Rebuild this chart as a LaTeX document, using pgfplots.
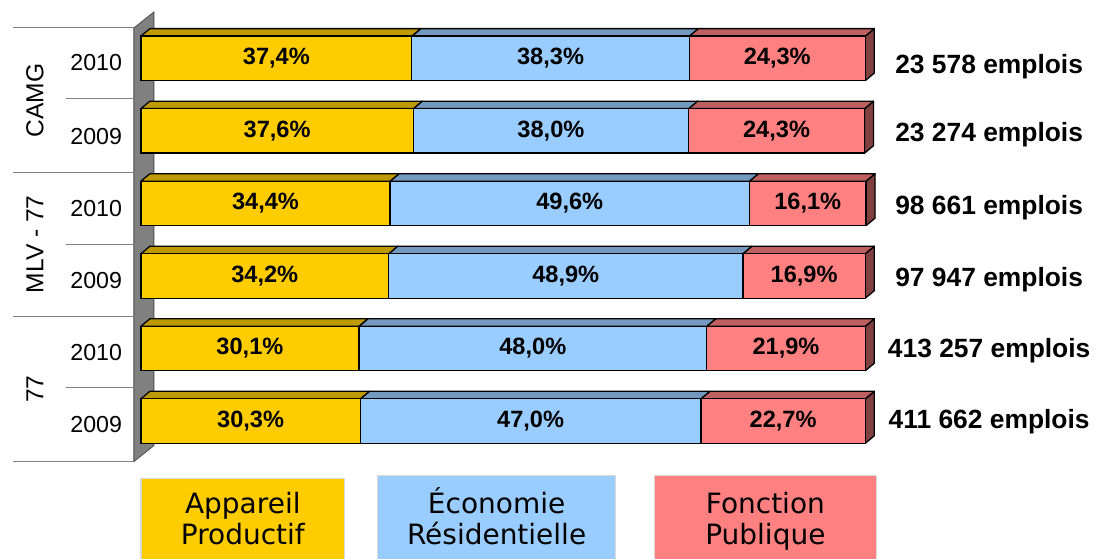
\documentclass[border=0pt]{standalone}
\usepackage{pgfplots}
\usepackage{pgfplotstable}
\pgfplotsset{compat=1.18}
\usepackage{fontspec}
\setmainfont{Liberation Sans}
\newfontfamily\legfont{DejaVu Sans}

\definecolor{apC}{HTML}{FFCC00}
\definecolor{ecC}{HTML}{99CCFF}
\definecolor{fpC}{HTML}{FF8080}
\definecolor{apT}{HTML}{BF9900}
\definecolor{ecT}{HTML}{7399BF}
\definecolor{fpT}{HTML}{BF6060}
\definecolor{fpS}{HTML}{804040}
\definecolor{wallC}{HTML}{808080}
\definecolor{gridC}{HTML}{808080}
\definecolor{legB}{HTML}{D9D9D9}

% y = position of the bar (5 = top), ey = baseline of the right label
\pgfplotstableread{
y ap ec fp emp ey
5 37.4 38.3 24.3 23578 4.785
4 37.6 38.0 24.3 23274 3.853
3 34.4 49.6 16.1 98661 2.843
2 34.2 48.9 16.9 97947 1.855
1 30.1 48.0 21.9 413257 0.873
0 30.3 47.0 22.7 411662 -0.105
}\data

\pgfkeys{/pgf/number format/.cd,
  pctfmt/.style={fixed, fixed zerofill, precision=1, use comma, assume math mode=true},
  empfmt/.style={fixed, precision=0, 1000 sep={\ }, assume math mode=true}}
\tikzset{
  pct/.style={font=\fontsize{11.8}{14}\selectfont\bfseries, anchor=base, yshift=-3.15pt},
  emp/.style={font=\fontsize{13.2}{15}\selectfont\bfseries, anchor=base},
  yr/.style={font=\fontsize{11.6}{14}\selectfont, anchor=east, inner sep=0pt},
  grp/.style={font=\fontsize{12.3}{14}\selectfont, rotate=90},
  leg/.style={font=\legfont\fontsize{14}{16}\selectfont, anchor=base},
  face/.style={draw=black, line width=0.65pt, line join=round}
}
\pgfplotsset{base/.style={
  at={(0pt,0pt)}, anchor=south west,
  hide axis, clip=false,
  x=3.625pt, y=36.3pt,
  xmin=-19.4483, xmax=131.862,
  ymin=-1.8953, ymax=5.8044,
  enlargelimits=false}}
\def\hh{0.30647}
\def\dy{0.1033}
\def\dx{1.2414}

% reads one row of the table and computes the corner positions
\newcommand\getrow[1]{%
  \pgfplotstablegetelem{#1}{y}\of\data \let\yv\pgfplotsretval
  \pgfplotstablegetelem{#1}{ap}\of\data \let\va\pgfplotsretval
  \pgfplotstablegetelem{#1}{ec}\of\data \let\vb\pgfplotsretval
  \pgfplotstablegetelem{#1}{fp}\of\data \let\vc\pgfplotsretval
  \pgfplotstablegetelem{#1}{emp}\of\data \let\ve\pgfplotsretval
  \pgfplotstablegetelem{#1}{ey}\of\data \let\vey\pgfplotsretval
  \pgfmathsetmacro\cb{\va+\vb}
  \pgfmathsetmacro\cc{\va+\vb+\vc}
  \pgfmathsetmacro\sad{\dx}
  \pgfmathsetmacro\cad{\va+\dx}
  \pgfmathsetmacro\cbd{\cb+\dx}
  \pgfmathsetmacro\ccd{\cc+\dx}
  \pgfmathsetmacro\ylo{\yv-\hh}
  \pgfmathsetmacro\ylod{\yv-\hh+\dy}
  \pgfmathsetmacro\yt{\yv+\hh}
  \pgfmathsetmacro\ytt{\yv+\hh+\dy}
  \pgfmathsetmacro\ma{\va/2}
  \pgfmathsetmacro\mb{\va+\vb/2}
  \pgfmathsetmacro\mc{\cb+\vc/2}%
}

\begin{document}
\begin{tikzpicture}
% decorations in pixel units of the reference
\begin{scope}[shift={(0pt,279.5pt)}, x=0.5pt, y=-0.5pt]
  \path (0,0) rectangle (1097,559);
  \filldraw[fill=wallC, draw=black!70, line width=0.4pt] (134,28) -- (154,12) -- (154,446) -- (134,462) -- cycle;
  \draw[gridC, line width=0.5pt]
    (13,28) -- (134,28) (66,99) -- (134,99)
    (13,173) -- (134,173) (66,245) -- (134,245)
    (13,317) -- (134,317) (66,388) -- (134,388)
    (13,462) -- (134,462);
  \node[grp] at (35,100.5) {CAMG};
  \node[grp] at (35,244.5) {MLV - 77};
  \node[grp] at (35,389.5) {77};
  \node[yr] at (122.5,63) {2010};
  \node[yr] at (122.5,136.5) {2009};
  \node[yr] at (122.5,209) {2010};
  \node[yr] at (122.5,281) {2009};
  \node[yr] at (122.5,352.5) {2010};
  \node[yr] at (122.5,425) {2009};
  % legend
  \filldraw[fill=apC, draw=legB, line width=0.75pt] (141,559) -- (141,479) -- (345,479) -- (345,559);
  \filldraw[fill=ecC, draw=legB, line width=0.75pt] (378,559) -- (378,476) -- (616,476) -- (616,559);
  \filldraw[fill=fpC, draw=legB, line width=0.75pt] (655,559) -- (655,476) -- (877,476) -- (877,559);
  \node[leg] at (243,514) {Appareil};
  \node[leg] at (243,545) {Productif};
  \node[leg] at (497,514) {Économie};
  \node[leg] at (497,545) {Résidentielle};
  \node[leg] at (766,514) {Fonction};
  \node[leg] at (766,545) {Publique};
\end{scope}

% bars: front faces, then top and side faces
\begin{axis}[base, xbar stacked, bar width=22.25pt]
  \addplot[fill=apC, draw=black, line width=0.65pt] table[x=ap, y=y] {\data};
  \addplot[fill=ecC, draw=black, line width=0.65pt] table[x=ec, y=y] {\data};
  \addplot[fill=fpC, draw=black, line width=0.65pt] table[x=fp, y=y] {\data};
  \pgfplotsforeachungrouped \r in {0,...,5}{%
    \getrow{\r}%
    \edef\temp{%
      \noexpand\filldraw[face, fill=apT] (axis cs:0,\yt) -- (axis cs:\va,\yt) -- (axis cs:\cad,\ytt) -- (axis cs:\sad,\ytt) -- cycle;
      \noexpand\filldraw[face, fill=ecT] (axis cs:\va,\yt) -- (axis cs:\cb,\yt) -- (axis cs:\cbd,\ytt) -- (axis cs:\cad,\ytt) -- cycle;
      \noexpand\filldraw[face, fill=fpT] (axis cs:\cb,\yt) -- (axis cs:\cc,\yt) -- (axis cs:\ccd,\ytt) -- (axis cs:\cbd,\ytt) -- cycle;
      \noexpand\filldraw[face, fill=fpS] (axis cs:\cc,\ylo) -- (axis cs:\cc,\yt) -- (axis cs:\ccd,\ytt) -- (axis cs:\ccd,\ylod) -- cycle;
    }\temp
  }
\end{axis}

% value labels on top of the bars
\begin{axis}[base]
  \pgfplotsforeachungrouped \r in {0,...,5}{%
    \getrow{\r}%
    \edef\temp{%
      \noexpand\node[pct] at (axis cs:\ma,\yv) {\noexpand\pgfmathprintnumber[pctfmt]{\va}\noexpand\%};
      \noexpand\node[pct] at (axis cs:\mb,\yv) {\noexpand\pgfmathprintnumber[pctfmt]{\vb}\noexpand\%};
      \noexpand\node[pct] at (axis cs:\mc,\yv) {\noexpand\pgfmathprintnumber[pctfmt]{\vc}\noexpand\%};
      \noexpand\node[emp] at (axis cs:117.1,\vey) {\noexpand\pgfmathprintnumber[empfmt]{\ve} emplois};
    }\temp
  }
\end{axis}
\end{tikzpicture}
\end{document}
